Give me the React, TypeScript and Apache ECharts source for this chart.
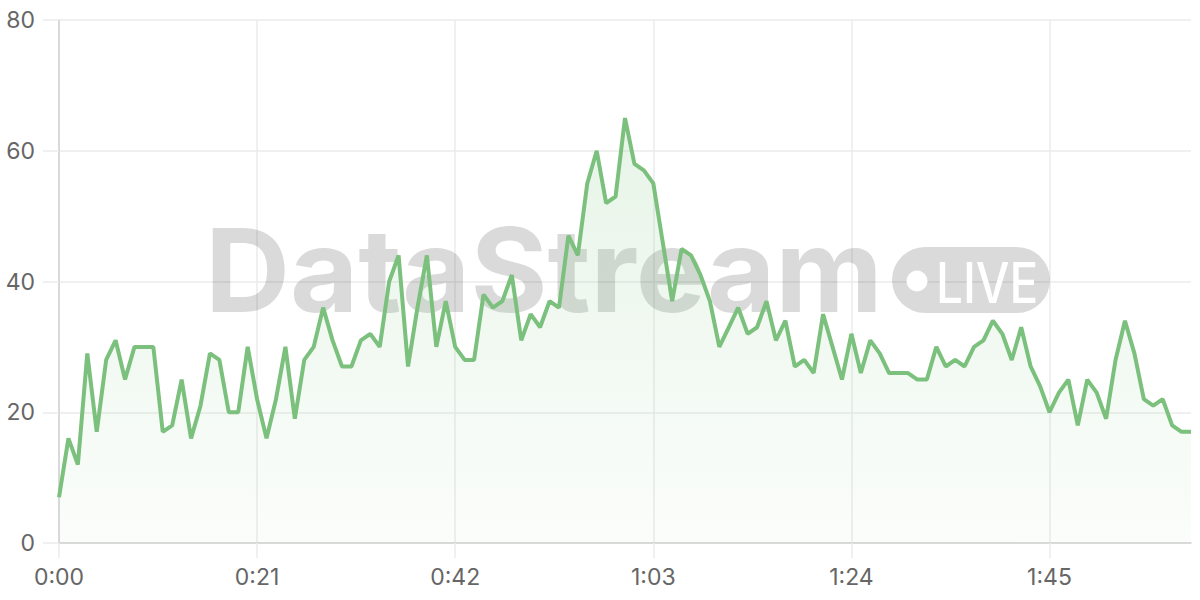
import React, { useEffect, useRef } from "react";
import * as echarts from "echarts";

// one reading per second, 0:00 .. 2:00
const values: number[] = [
  7, 16, 12, 29, 17, 28, 31, 25, 30, 30,
  30, 17, 18, 25, 16, 21, 29, 28, 20, 20,
  30, 22, 16, 22, 30, 19, 28, 30, 36, 31,
  27, 27, 31, 32, 30, 40, 44, 27, 36, 44,
  30, 37, 30, 28, 28, 38, 36, 37, 41, 31,
  35, 33, 37, 36, 47, 44, 55, 60, 52, 53,
  65, 58, 57, 55, 46, 37, 45, 44, 41, 37,
  30, 33, 36, 32, 33, 37, 31, 34, 27, 28,
  26, 35, 30, 25, 32, 26, 31, 29, 26, 26,
  26, 25, 25, 30, 27, 28, 27, 30, 31, 34,
  32, 28, 33, 27, 24, 20, 23, 25, 18, 25,
  23, 19, 28, 34, 29, 22, 21, 22, 18, 17,
  17,
];

const timeLabels: string[] = values.map(
  (_, s) => `${Math.floor(s / 60)}:${String(s % 60).padStart(2, "0")}`
);

const yMin = 0;
const yMax = 80;
const yStep = 20;
const labelEvery = 21;

const watermarkTitle = "DataStream";
const watermarkBadge = "LIVE";

export default function App() {
  const ref = useRef<HTMLDivElement>(null);

  useEffect(() => {
    const chart = echarts.init(ref.current!, null, { renderer: "svg" });
    const gridColor = "#ebebeb";
    const axisColor = "#d2d2d2";
    const labelFont = "Inter, 'Liberation Sans', sans-serif";
    chart.setOption({
      animation: false,
      backgroundColor: "#ffffff",
      grid: { left: 59, right: 9, top: 20, bottom: 57, containLabel: false },
      xAxis: {
        type: "category",
        boundaryGap: false,
        data: timeLabels,
        axisLine: { show: true, lineStyle: { color: axisColor, width: 1.5 } },
        axisTick: {
          show: true,
          interval: labelEvery - 1,
          length: 15,
          lineStyle: { color: gridColor, width: 1.5 },
        },
        axisLabel: {
          interval: labelEvery - 1,
          margin: 22,
          fontSize: 23,
          color: "#666666",
          fontFamily: labelFont,
        },
        splitLine: {
          show: true,
          interval: labelEvery - 1,
          lineStyle: { color: gridColor, width: 1.5 },
        },
      },
      yAxis: {
        type: "value",
        min: yMin,
        max: yMax,
        interval: yStep,
        axisLine: { show: true, lineStyle: { color: axisColor, width: 1.5 } },
        axisTick: {
          show: true,
          length: 16,
          lineStyle: { color: gridColor, width: 1.5 },
        },
        axisLabel: {
          margin: 24,
          fontSize: 23,
          color: "#666666",
          fontFamily: labelFont,
        },
        splitLine: { show: true, lineStyle: { color: gridColor, width: 1.5 } },
      },
      graphic: [
        {
          type: "text",
          z: 1,
          x: 205,
          y: 270,
          scaleX: 1.015,
          style: {
            text: watermarkTitle,
            fontSize: 116,
            fontWeight: "bold",
            fontFamily: "Inter, 'Liberation Sans', sans-serif",
            fill: "rgba(0,0,0,0.145)",
            textAlign: "left",
            textVerticalAlign: "middle",
          },
        },
        {
          type: "rect",
          z: 1,
          shape: { x: 892, y: 247, width: 158, height: 66, r: 33 },
          style: { fill: "rgba(0,0,0,0.145)" },
        },
        {
          type: "circle",
          z: 1,
          shape: { cx: 917, cy: 281, r: 10.5 },
          style: { fill: "#ffffff" },
        },
        {
          type: "text",
          z: 1,
          x: 936,
          y: 283,
          scaleX: 0.85,
          style: {
            text: watermarkBadge,
            fontSize: 56,
            fontWeight: 500,
            fontFamily: "Inter, 'Liberation Sans', sans-serif",
            fill: "#ffffff",
            textAlign: "left",
            textVerticalAlign: "middle",
          },
        },
      ],
      series: [
        {
          type: "line",
          data: values,
          symbol: "none",
          smooth: false,
          z: 2,
          lineStyle: { color: "#7bc07d", width: 4 },
          areaStyle: {
            color: new echarts.graphic.LinearGradient(
              0,
              20,
              0,
              543,
              [
                { offset: 0, color: "rgba(129,199,132,0.32)" },
                { offset: 1, color: "rgba(129,199,132,0.05)" },
              ],
              true
            ),
          },
        },
      ],
    });
    return () => chart.dispose();
  }, []);

  return (
    <div
      ref={ref}
      style={{ position: "fixed", left: 0, top: 0, width: 1200, height: 600 }}
    />
  );
}
